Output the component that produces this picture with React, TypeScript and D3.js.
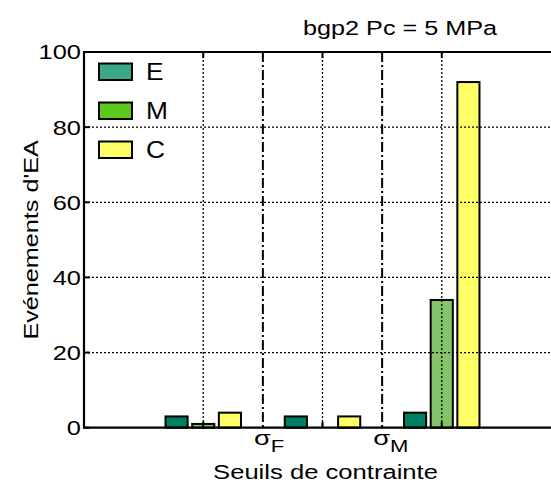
import React from "react";
import * as d3 from "d3";

const categories = [1, 2, 3];
const seriesKeys = ["E", "M", "C"];
const valuesE = [3, 3, 4];
const valuesM = [1, 0, 34];
const valuesC = [4, 3, 92];
const yTicks = [0, 20, 40, 60, 80, 100];
const thresholdPos = [1.5, 2.5];
const thresholdSub = ["F", "M"];
const title = "bgp2 Pc = 5 MPa";
const xLabel = "Seuils de contrainte";
const yLabel = "Evénements d'EA";

const barColors: Record<string, string> = { E: "#008062", M: "#86C46A", C: "#FFFF66" };
const legendColors: Record<string, string> = { E: "#3AA98A", M: "#5CCA1C", C: "#FFFF66" };

const W = 551;
const H = 484;
const FONT = "'Liberation Sans', Arial, Helvetica, sans-serif";

type STProps = {
  x: number; y: number; rot?: number; sx?: number; size: number;
  anchor?: "start" | "middle" | "end"; dy?: string; children: React.ReactNode;
};
function ST({ x, y, rot = 0, sx = 1.2, size, anchor = "start", dy, children }: STProps) {
  return (
    <g transform={`translate(${x},${y}) rotate(${rot}) scale(${sx},1)`}>
      <text x={0} y={0} dy={dy} textAnchor={anchor} fontSize={size} fill="#000">{children}</text>
    </g>
  );
}

export default function App() {
  const x = d3.scaleLinear().domain([0, 4]).range([84, 561]);
  const y = d3.scaleLinear().domain([0, 100]).range([427.7, 52]);
  const inner = d3.scaleBand<string>().domain(seriesKeys).range([-40, 40]).paddingInner(0.17).paddingOuter(0.085);
  const seriesVals: Record<string, number[]> = { E: valuesE, M: valuesM, C: valuesC };
  const left = x(0);
  const right = x(4);
  const top = y(100);
  const bottom = y(0);

  return (
    <svg width={W} height={H} style={{ position: "absolute", left: 0, top: 0, background: "#fff" }} fontFamily={FONT}>
      {/* bars */}
      {categories.map((c, i) =>
        seriesKeys.map((k) => {
          const v = seriesVals[k][i];
          const bx = x(c) + (inner(k) as number);
          return (
            <rect key={k + c} x={bx} y={y(v)} width={inner.bandwidth()} height={y(0) - y(v)}
              fill={barColors[k]} stroke="#000" strokeWidth={2} />
          );
        })
      )}
      {/* grid */}
      {yTicks.filter((t) => t > 0 && t < 100).map((t) => (
        <line key={"gy" + t} x1={left} x2={right} y1={y(t)} y2={y(t)} stroke="#000" strokeWidth={1.3} strokeDasharray="2,2" />
      ))}
      {categories.map((c) => (
        <line key={"gx" + c} x1={x(c)} x2={x(c)} y1={top} y2={bottom} stroke="#000" strokeWidth={1.3} strokeDasharray="2,2" />
      ))}
      {/* thresholds */}
      {thresholdPos.map((p) => (
        <line key={"th" + p} x1={x(p)} x2={x(p)} y1={top} y2={bottom} stroke="#000" strokeWidth={2} strokeDasharray="10,3,2,3" />
      ))}
      {/* ticks */}
      {yTicks.map((t) => (
        <line key={"ty" + t} x1={left} x2={left + 6} y1={y(t)} y2={y(t)} stroke="#000" strokeWidth={2} />
      ))}
      {categories.map((c) => (
        <g key={"tx" + c}>
          <line x1={x(c)} x2={x(c)} y1={bottom} y2={bottom - 6} stroke="#000" strokeWidth={2} />
          <line x1={x(c)} x2={x(c)} y1={top} y2={top + 6} stroke="#000" strokeWidth={2} />
        </g>
      ))}
      {/* axes box */}
      <line x1={left} x2={right} y1={top} y2={top} stroke="#000" strokeWidth={2.2} />
      <line x1={left} x2={right} y1={bottom} y2={bottom} stroke="#000" strokeWidth={2.2} />
      <line x1={left} x2={left} y1={top - 1} y2={bottom + 1} stroke="#000" strokeWidth={2.2} />
      {/* y tick labels */}
      {yTicks.map((t) => (
        <ST key={"yl" + t} x={left - 3} y={y(t)} dy="0.36em" anchor="end" size={20.5} sx={1.24}>{t}</ST>
      ))}
      {/* threshold labels */}
      {thresholdPos.map((p, i) => (
        <ST key={"tl" + p} x={x(p) - 9} y={445} size={21} sx={1.3}>
          σ<tspan fontSize={17} dy={7}>{thresholdSub[i]}</tspan>
        </ST>
      ))}
      {/* labels */}
      <ST x={(left + right) / 2 + 3} y={479} anchor="middle" size={21} sx={1.22}>{xLabel}</ST>
      <ST x={38} y={(top + bottom) / 2} rot={-90} anchor="middle" size={21} sx={1.2}>{yLabel}</ST>
      <ST x={497} y={35} anchor="end" size={21} sx={1.2}>{title}</ST>
      {/* legend */}
      {seriesKeys.map((k, i) => (
        <g key={"lg" + k} transform={`translate(99, ${63.5 + i * 39})`}>
          <rect x={0} y={0} width={33} height={16.5} fill={legendColors[k]} stroke="#000" strokeWidth={2} />
          <ST x={47} y={8.5} dy="0.36em" size={23.5} sx={1.12}>{k}</ST>
        </g>
      ))}
    </svg>
  );
}
